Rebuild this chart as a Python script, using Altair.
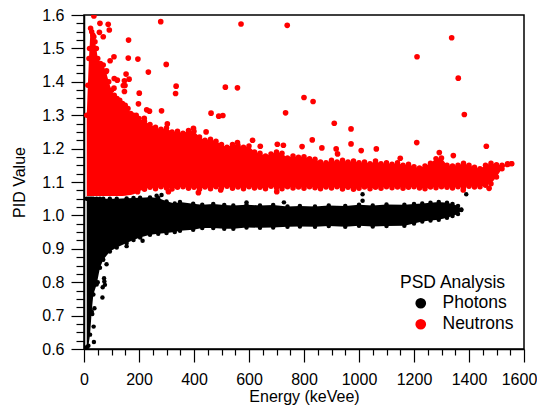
import altair as alt
import pandas as pd

# Dense neutron band: envelope
red_energy = [10,14,18,20,24,28,32,36,40,45,50,60,70,80,90,100,110,120,130,140,150,160,170,180,190,200,
              220,240,260,280,300,320,340,360,380,400,420,440,460,480,500,520,540,560,580,600,620,640,660,680,
              700,720,740,760,780,800,820,840,860,880,900,920,940,960,980,1000,1020,1040,1060,1080,1100,1120,
              1140,1160,1180,1200,1220,1240,1260,1280,1300,1320,1340,1360,1380,1400,1420,1440,1460,1480,1500,1520,1540,1555]
red_top = [1.30,1.39,1.47,1.50,1.56,1.55,1.54,1.535,1.52,1.50,1.47,1.455,1.45,1.43,1.40,1.375,1.36,1.35,1.345,1.335,1.33,1.32,1.305,1.30,1.30,1.29,
           1.282,1.272,1.264,1.258,1.262,1.250,1.252,1.246,1.254,1.252,1.235,1.225,1.228,1.222,1.212,1.204,1.212,1.210,1.204,1.208,1.190,1.186,1.178,1.184,
           1.190,1.186,1.172,1.178,1.174,1.176,1.170,1.168,1.160,1.158,1.165,1.160,1.165,1.160,1.163,1.158,1.160,1.155,1.163,1.155,1.158,1.153,
           1.158,1.150,1.153,1.146,1.142,1.148,1.156,1.170,1.172,1.150,1.148,1.150,1.156,1.150,1.144,1.140,1.150,1.156,1.152,1.150,1.155,1.155]
red_bottom = [1.058,1.058,1.058,1.058,1.058,1.058,1.058,1.058,1.058,1.058,1.058,1.058,1.058,1.058,1.058,1.058,1.058,1.058,1.058,1.058,1.059,1.060,1.061,1.063,1.066,1.072,
              1.078,1.084,1.080,1.086,1.082,1.079,1.084,1.086,1.081,1.084,1.078,1.085,1.080,1.086,1.083,1.087,1.081,1.085,1.080,1.086,1.082,1.084,1.080,1.087,
              1.083,1.080,1.086,1.082,1.085,1.081,1.086,1.083,1.080,1.085,1.082,1.086,1.079,1.084,1.078,1.081,1.085,1.080,1.084,1.081,1.086,1.083,
              1.085,1.081,1.084,1.086,1.082,1.080,1.085,1.083,1.086,1.084,1.082,1.086,1.084,1.087,1.085,1.086,1.090,1.095,1.115,1.140,1.152,1.155]

# Dense photon band: envelope
black_energy = [10,16,22,28,34,46,58,70,94,119,155,180,204,240,270,300,330,349,397,430,470,510,543,591,640,688,
                740,785,840,890,950,1000,1050,1100,1165,1200,1230,1260,1290,1320,1340,1360,1372]
black_top = [1.050,1.050,1.050,1.050,1.050,1.050,1.050,1.050,1.050,1.050,1.051,1.052,1.053,1.054,1.052,1.042,1.036,1.040,1.035,1.032,1.034,1.031,1.030,1.032,1.030,1.031,
             1.027,1.028,1.027,1.030,1.028,1.032,1.030,1.033,1.032,1.034,1.036,1.038,1.040,1.038,1.034,1.028,1.018]
black_bottom = [0.605,0.610,0.643,0.713,0.763,0.793,0.843,0.867,0.892,0.904,0.917,0.926,0.934,0.942,0.945,0.947,0.950,0.954,0.957,0.962,0.962,0.960,0.960,0.964,0.963,0.964,
                0.966,0.967,0.966,0.968,0.966,0.969,0.967,0.968,0.969,0.976,0.982,0.985,0.987,0.993,0.998,1.004,1.016]

# Individual outliers
neutron_x = [279,88,58,92,56,70,162,161,196,109,95,299,234,82,153,164,147,121,110,143,149,335,333,201,147,109,514,558,571,739,462,490,505,733,282,228,238,198,219,303,444,613,641,703,725,558,398,
             416,701,497,307,195,800,833,910,971,830,971,793,865,917,1008,1063,1211,1337,1361,1383,1210,1463,922,1150,1343,1292,1379,1473,36]
neutron_y = [1.580,1.572,1.575,1.555,1.548,1.535,1.525,1.471,1.468,1.475,1.463,1.452,1.429,1.433,1.423,1.408,1.403,1.405,1.410,1.389,1.389,1.387,1.365,1.366,1.371,1.381,1.384,1.382,1.573,1.569,1.306,1.297,1.299,1.307,1.313,1.316,1.312,1.334,1.291,1.274,1.250,1.225,1.207,1.213,1.210,1.218,1.261,
             1.068,1.071,1.076,1.071,1.071,1.353,1.341,1.276,1.259,1.226,1.214,1.206,1.202,1.199,1.194,1.199,1.475,1.532,1.411,1.302,1.218,1.207,1.184,1.171,1.179,1.188,1.076,1.081,1.597]
photon_x = [36,35,38,30,67,82,50,73,74,76,68,155,213,727,591,264,282,1013,1390,1013]
photon_y = [0.621,0.667,0.722,0.705,0.754,0.854,0.800,0.812,0.802,0.792,0.785,0.908,0.924,1.039,1.039,1.059,1.061,1.063,1.063,1.044]

x_ticks = list(range(0, 1601, 50))
y_ticks = [round(0.6 + i * 0.025, 3) for i in range(41)]

FONT = "Liberation Sans"
x_scale = alt.Scale(domain=[0, 1600], nice=False, zero=False)
y_scale = alt.Scale(domain=[0.6, 1.6], nice=False, zero=False)
series_scale = alt.Scale(domain=["Photons", "Neutrons"], range=["#000000", "#ff0000"])

x_axis = alt.Axis(title="Energy (keVee)", values=x_ticks, labelExpr="datum.value % 200 === 0 ? datum.label : ''",
                  tickSize={"condition": {"test": "datum.value % 200 === 0", "value": 13}, "value": 6},
                  labelOffset={"condition": {"test": "datum.value === 1600", "value": -5}, "value": 0},
                  labelPadding=9, titlePadding=1, format="d", labelFlush=False, labelOverlap=False)
y_axis = alt.Axis(title="PID Value", values=y_ticks, labelExpr="abs(datum.value*10-round(datum.value*10))<0.001 ? format(datum.value,'.1f') : ''",
                  tickSize={"condition": {"test": "abs(datum.value*10-round(datum.value*10))<0.001", "value": 13}, "value": 8},
                  labelPadding=7, titlePadding=14, labelOverlap=False, labelFlush=False)

red_df = pd.DataFrame({"e": red_energy, "top": red_top, "bot": red_bottom})
black_df = pd.DataFrame({"e": black_energy, "top": black_top, "bot": black_bottom})


def band(df, colour):
    return alt.Chart(df).mark_area(color=colour, clip=True, interpolate="linear").encode(
        x=alt.X("e:Q", scale=x_scale, axis=x_axis),
        y=alt.Y("top:Q", scale=y_scale, axis=y_axis),
        y2="bot:Q")


def edge(df, field, colour, size):
    return alt.Chart(df).mark_circle(color=colour, size=size, opacity=1, clip=True).encode(
        x=alt.X("e:Q", scale=x_scale, axis=x_axis), y=alt.Y(f"{field}:Q", scale=y_scale, axis=y_axis))


legend = alt.Legend(
    title="PSD Analysis", orient="none", legendX=316, legendY=259, symbolSize=115, symbolType="circle",
    symbolOffset=12, labelFontSize=17.5, titleFontSize=17.5, titleFontWeight="normal", labelFont=FONT, titleFont=FONT,
    labelColor="#000000", titleColor="#000000", labelOffset=13, rowPadding=2, titlePadding=3, padding=0)


def scatter(xs, ys, name, size):
    df = pd.DataFrame({"e": xs, "pid": ys, "series": name})
    return alt.Chart(df).mark_circle(opacity=1, clip=True, size=size).encode(
        x=alt.X("e:Q", scale=x_scale, axis=x_axis),
        y=alt.Y("pid:Q", scale=y_scale, axis=y_axis),
        color=alt.Color("series:N", scale=series_scale, sort=["Photons", "Neutrons"], legend=legend))


chart = alt.layer(
    band(red_df, "#ff0000"),
    edge(red_df, "top", "#ff0000", 30),
    edge(red_df.iloc[26:], "bot", "#ff0000", 30),
    scatter(neutron_x, neutron_y, "Neutrons", 32),
    band(black_df, "#000000"),
    edge(black_df, "top", "#000000", 20),
    edge(black_df, "bot", "#000000", 20),
    scatter(photon_x, photon_y, "Photons", 20),
).properties(
    width=440, height=334,
    padding={"left": 76, "top": 7, "right": 13, "bottom": 56},
    autosize=alt.AutoSizeParams(type="none"),
).configure_view(stroke="#000000", strokeWidth=1.5).configure_axis(
    grid=False, labelFont=FONT, titleFont=FONT, labelFontSize=16, titleFontSize=16, titleFontWeight="normal",
    labelColor="#000000", titleColor="#000000", tickColor="#000000", domainColor="#000000",
    tickWidth=1.2, domainWidth=1.5, labelAngle=0,
)
chart.save("out.html", embed_options={"renderer": "svg", "actions": False})
